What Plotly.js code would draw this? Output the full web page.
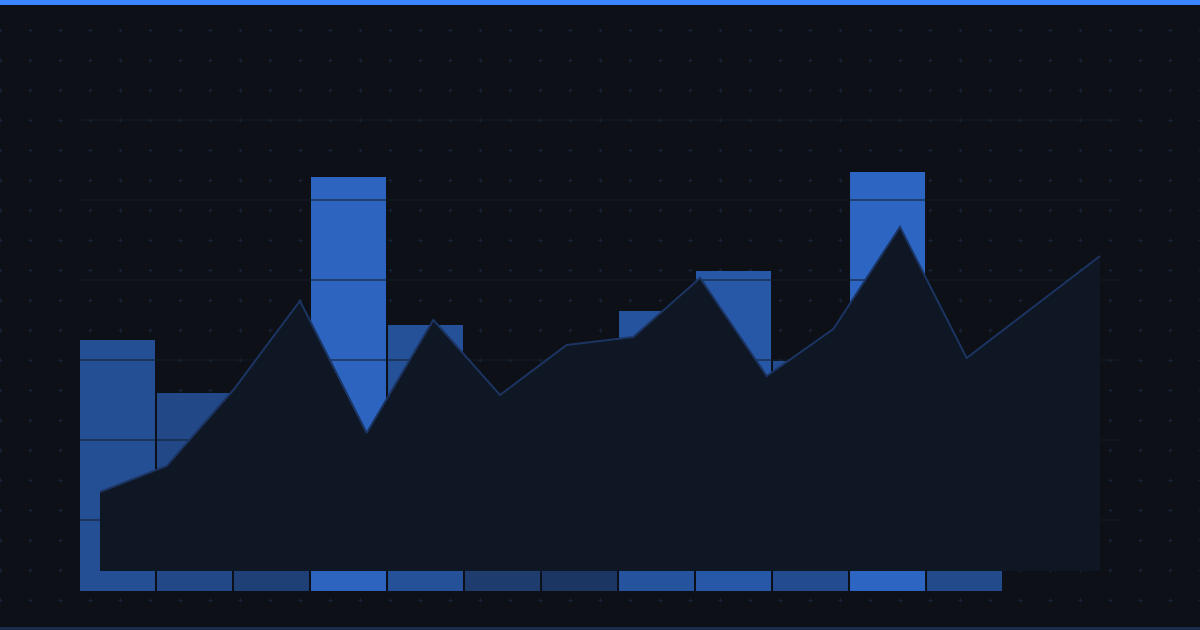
<!DOCTYPE html>
<html>
<head>
<meta charset="utf-8">
<script src="https://cdn.plot.ly/plotly-3.0.1.min.js"></script>
<style>
  html, body { margin: 0; padding: 0; background: #0d1017; }
  #wrap {
    position: relative; width: 1200px; height: 630px; overflow: hidden;
    background-color: #0d1017;
    background-image: url("data:image/svg+xml;utf8,<svg xmlns='http://www.w3.org/2000/svg' width='30' height='30'><path d='M13.5 15.5H17.5M15.5 13.5V17.5' stroke='%23172338' stroke-width='1'/></svg>");
    background-position: -0.5px -0.5px;
    background-position: 15px 15px;
  }
  #topbar { position: absolute; left: 0; top: 0; width: 1200px; height: 5px; background: #3a86ff; z-index: 2; }
  #botbar { position: absolute; left: 0; top: 627px; width: 1200px; height: 3px; background: #1b2c4a; z-index: 2; }
  #chart { position: absolute; left: 0; top: 0; width: 1200px; height: 630px; z-index: 1; }
</style>
</head>
<body>
<div id="wrap">
  <div id="topbar"></div>
  <div id="chart"></div>
  <div id="botbar"></div>
</div>
<script>
// ---- data ----
const barCategories = [0, 1, 2, 3, 4, 5, 6, 7, 8, 9, 10, 11];
const barValues = [62.75, 49.5, 34, 103.5, 66.5, 26, 15, 70, 80, 57.5, 104.75, 52.5];

const areaCategories = [0, 1, 2, 3, 4, 5, 6, 7, 8, 9, 10, 11, 12, 13, 14, 15];
const areaValues = [19.75, 26.25, 45.25, 67.5, 34.5, 62.75, 44, 56.5, 58.5, 73.25, 48.75, 60.5, 86, 53.25, 66, 78.75];

const gridValues = [17.75, 37.75, 57.75, 77.75, 97.75, 117.75];

// ---- axis ranges ----
const xRange = [-0.487, 13.019];
const yRange = [0, 120];
const x2Range = [-0.3, 15.3];
const y2Range = [-5, 115];

// gridlines drawn between bars and area
const gx = [], gy = [];
gridValues.forEach(v => { gx.push(xRange[0], xRange[1], null); gy.push(v, v, null); });

const traces = [
  {
    type: 'bar', x: barCategories, y: barValues, xaxis: 'x', yaxis: 'y',
    marker: { color: barValues, colorscale: [[0, '#192e53'], [1, '#2c65c2']], cmin: 0, cmax: 105, showscale: false, line: { width: 0 } },
    hoverinfo: 'skip'
  },
  {
    type: 'scatter', mode: 'lines', x: gx, y: gy, xaxis: 'x', yaxis: 'y',
    line: { color: '#151c28', width: 1 }, hoverinfo: 'skip', cliponaxis: false
  },
  {
    type: 'scatter', mode: 'lines', x: areaCategories, y: areaValues, xaxis: 'x2', yaxis: 'y2',
    fill: 'tozeroy', fillcolor: '#0f1724',
    line: { color: '#1c3461', width: 2 }, hoverinfo: 'skip'
  }
];

const hiddenAxis = { showgrid: false, zeroline: false, showticklabels: false, ticks: '', showline: false, fixedrange: true };

const layout = {
  width: 1200, height: 630,
  margin: { l: 80, r: 80, t: 111, b: 39, pad: 0 },
  paper_bgcolor: 'rgba(0,0,0,0)', plot_bgcolor: 'rgba(0,0,0,0)',
  showlegend: false,
  bargap: 0.026,
  xaxis: Object.assign({}, hiddenAxis, { range: xRange }),
  yaxis: Object.assign({}, hiddenAxis, { range: yRange }),
  xaxis2: Object.assign({}, hiddenAxis, { range: x2Range, overlaying: 'x' }),
  yaxis2: Object.assign({}, hiddenAxis, { range: y2Range, overlaying: 'y' })
};

Plotly.newPlot('chart', traces, layout, { staticPlot: true, displayModeBar: false });
</script>
</body>
</html>
